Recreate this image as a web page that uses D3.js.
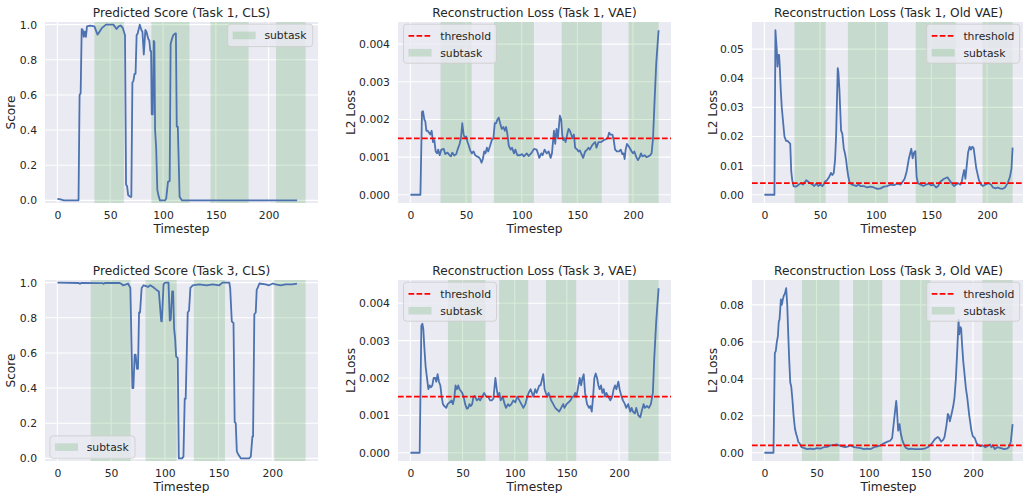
<!DOCTYPE html>
<html><head><meta charset="utf-8">
<script src="https://cdn.jsdelivr.net/npm/d3@7"></script>
<style>html,body{margin:0;padding:0;background:#fff;overflow:hidden}svg{display:block}</style>
</head><body>
<svg id="chart" width="1023" height="493"></svg>
<script>
// ---------------- DATA ----------------
const xTicks = [0, 50, 100, 150, 200];
const scoreTicks = [0, 0.2, 0.4, 0.6, 0.8, 1.0];
const vaeTicks = [0, 0.001, 0.002, 0.003, 0.004];
const old1Ticks = [0, 0.01, 0.02, 0.03, 0.04, 0.05];
const old3Ticks = [0, 0.02, 0.04, 0.06, 0.08];
const scoreLimits = [-0.015, 1.015];
const thresholdVae = 0.0015;
const thresholdOld = 0.004;

const cls1Spans = [[35,63],[89,125],[145,181],[207,235]];
const vae1Spans = [[27,55],[75,111],[136,172],[196,223]];
const cls3Spans = [[31,68],[82,111],[127,156],[202,231]];
const vae3Spans = [[36,72],[85,113],[130,159],[209,238]];

const titles = [
  "Predicted Score (Task 1, CLS)", "Reconstruction Loss (Task 1, VAE)", "Reconstruction Loss (Task 1, Old VAE)",
  "Predicted Score (Task 3, CLS)", "Reconstruction Loss (Task 3, VAE)", "Reconstruction Loss (Task 3, Old VAE)"
];

const cls1Score = [[0,0.008],[3,0.005],[6,0.0],[20,0.0],[21,0.6],[22,0.61],[23,0.975],[24,0.97],[25,0.93],[26,0.96],[27,0.93],[28,0.99],[31,0.995],[35,0.99],[38,0.943],[42,0.98],[46,1.0],[53,1.0],[56,0.975],[58,0.99],[60,0.995],[62,0.98],[64,0.94],[65,0.09],[66,0.08],[67,0.03],[69,0.02],[70,0.02],[71,0.67],[72,0.68],[73,0.72],[74,0.72],[75,0.94],[76,0.95],[78,1.0],[79.5,0.97],[80.5,0.96],[81.8,0.83],[83.3,0.97],[84.3,0.96],[86,0.92],[87,0.91],[88,0.85],[88.7,0.85],[89.3,0.49],[90.3,0.49],[91.2,0.908],[91.8,0.9],[92.5,0.4],[93.5,0.3],[94.6,0.06],[95.6,0.03],[97,0.0],[102,0.0],[103,0.01],[104.7,0.105],[106.3,0.11],[107.2,0.89],[108.5,0.92],[109.7,0.94],[111.6,0.95],[112.2,0.95],[113,0.42],[114,0.42],[115.7,0.02],[117.3,0.005],[118,0.0],[227,0.0]];

const vae1Loss = [[0,0],[9,0],[10.4,0.0022],[11.3,0.00222],[12.5,0.002],[13.4,0.00195],[14.3,0.0017],[15.5,0.0017],[16.7,0.00165],[17.9,0.0016],[19.1,0.0017],[20.3,0.0014],[21.5,0.00145],[22.7,0.00115],[23.9,0.0011],[25,0.0012],[26.3,0.00105],[27.8,0.0012],[29.9,0.00122],[31.3,0.00108],[33.4,0.00112],[35.2,0.00105],[36.4,0.00102],[37.6,0.00112],[39.4,0.00104],[41.2,0.00108],[42.4,0.0012],[44.2,0.00135],[45.4,0.0015],[46.6,0.0019],[47.8,0.0016],[49,0.0015],[50.1,0.00155],[51.3,0.0014],[52.5,0.0013],[53.7,0.00118],[55.2,0.0011],[56.7,0.00115],[58.2,0.00105],[59.7,0.00102],[61.2,0.001],[62.7,0.00095],[63.9,0.00085],[65.1,0.00095],[66.3,0.00115],[67.5,0.0011],[68.7,0.00125],[69.9,0.00115],[71.6,0.0013],[73.1,0.00145],[74.6,0.0015],[75.8,0.0019],[77,0.0019],[78.2,0.002],[79.4,0.00205],[80.6,0.0019],[82.1,0.00175],[83.6,0.0018],[84.8,0.0017],[86,0.0018],[87.2,0.0016],[88.4,0.0013],[90.1,0.0012],[91.3,0.00125],[93.1,0.0011],[94.3,0.0012],[96.1,0.00105],[98.5,0.00105],[100.3,0.00108],[102,0.00102],[104.5,0.0011],[106.3,0.00103],[109,0.00112],[111,0.00122],[113.4,0.0012],[114.6,0.0011],[115.8,0.00098],[117.6,0.0011],[118.8,0.00105],[120.6,0.0012],[122.4,0.0011],[124.2,0.00115],[126,0.00098],[127.2,0.0011],[129,0.0017],[130.1,0.00135],[131.3,0.00175],[132.5,0.0015],[133.1,0.0017],[134.3,0.0021],[135.5,0.002],[136.4,0.0016],[137.3,0.00145],[138.5,0.0015],[139.4,0.0014],[140.9,0.0016],[142.1,0.00175],[143.3,0.0017],[144.5,0.0016],[145.7,0.0015],[146.9,0.0016],[148,0.00125],[149.9,0.0012],[151,0.00115],[152.2,0.00118],[153.4,0.0011],[155.2,0.00098],[157,0.00115],[158.8,0.0012],[160,0.00125],[161.2,0.0012],[163,0.0013],[164.2,0.00135],[166,0.0014],[167.2,0.00125],[169,0.0014],[171.3,0.0014],[173.7,0.00145],[176.1,0.00148],[177.3,0.0015],[178.5,0.00165],[179.7,0.0016],[181.5,0.0016],[182.7,0.00145],[183.9,0.0012],[185.7,0.00115],[187.5,0.00115],[189,0.0012],[190.4,0.00108],[191.6,0.0011],[192.5,0.00095],[193.4,0.0012],[194.6,0.00135],[195.8,0.0013],[197,0.00125],[198.8,0.00115],[200,0.0011],[201.2,0.00115],[203,0.001],[204.5,0.00092],[206,0.001],[207.2,0.0011],[208.4,0.00102],[210.4,0.00105],[212,0.001],[213.7,0.00102],[215.5,0.00105],[216.7,0.0011],[218,0.0015],[219.4,0.0025],[220.9,0.0035],[223,0.00437]];

const old1Loss = [[0,0],[9,0],[9.9,0.0565],[10.5,0.053],[11.1,0.05],[11.7,0.044],[12.6,0.048],[13.2,0.048],[13.8,0.044],[14.7,0.036],[15.6,0.03],[16.8,0.025],[18,0.02],[19.5,0.0185],[20.8,0.0185],[22,0.018],[22.6,0.0178],[23.2,0.0175],[24.1,0.008],[25,0.005],[26.2,0.003],[27.7,0.0028],[29.2,0.003],[31,0.0035],[32.8,0.004],[34.6,0.0035],[35.8,0.004],[37.6,0.005],[39.4,0.0045],[41.2,0.004],[43,0.0035],[44.8,0.003],[46.6,0.0038],[48.4,0.003],[50.2,0.0035],[52,0.003],[53.2,0.0035],[54.4,0.0045],[56.2,0.005],[58,0.006],[59.8,0.0075],[61,0.0068],[62.3,0.0075],[63.5,0.012],[64.4,0.02],[65.9,0.0435],[66.5,0.042],[67.4,0.036],[68.9,0.022],[70,0.021],[71.3,0.016],[72.5,0.014],[73.4,0.012],[74.3,0.009],[75.5,0.006],[76.7,0.004],[78.5,0.0035],[80.3,0.0033],[82.7,0.003],[84.5,0.0035],[86.3,0.003],[89.3,0.003],[92.3,0.0025],[95.3,0.0028],[98.3,0.0025],[101.4,0.002],[104.4,0.0022],[107.4,0.0028],[110.4,0.003],[113.4,0.0035],[116.4,0.0033],[119.4,0.0038],[122.4,0.0035],[124.2,0.0045],[126,0.0055],[127.8,0.008],[129.6,0.012],[130.8,0.014],[132,0.0158],[133.2,0.0125],[134.4,0.0145],[135.6,0.015],[136.8,0.006],[138,0.004],[140.5,0.0035],[142.9,0.003],[145.3,0.0035],[147.7,0.0038],[150.1,0.0032],[151.9,0.0035],[154.3,0.0025],[156.1,0.003],[158,0.0045],[159.7,0.005],[161.5,0.0055],[164.5,0.006],[166.3,0.005],[168.1,0.004],[170.5,0.003],[172.3,0.0035],[174.1,0.004],[175.9,0.0035],[177.1,0.004],[178.3,0.0065],[179.5,0.0085],[180.6,0.0055],[181.8,0.01],[183,0.0145],[184.4,0.0165],[185.6,0.0155],[186.8,0.0165],[188,0.016],[189.2,0.0125],[190.4,0.009],[191.6,0.007],[192.8,0.005],[194.6,0.0035],[196.4,0.003],[198.8,0.0035],[201.2,0.004],[203.6,0.0035],[205.4,0.0025],[207.8,0.0022],[209.6,0.0025],[211.4,0.0022],[213.8,0.002],[216.2,0.0025],[218.6,0.004],[220.5,0.006],[222,0.009],[223,0.0162]];

const cls3Score = [[0,1.0],[20,0.998],[21,0.993],[22,0.998],[42,0.997],[43,0.993],[44,0.998],[58,0.998],[59.6,0.993],[61,0.985],[64,0.99],[65.7,0.995],[67.9,0.97],[69.8,0.4],[70.7,0.4],[71.9,0.59],[72.8,0.59],[74,0.51],[75,0.51],[76,0.83],[76.9,0.83],[78.4,0.97],[80.2,0.985],[82.7,0.98],[84.3,0.975],[86.4,0.985],[89,0.975],[92,0.96],[94.4,0.95],[96.6,0.78],[97.2,0.78],[98.8,0.99],[100.3,1.0],[103.4,1.0],[104.6,0.784],[105.5,0.79],[106.8,0.95],[107.7,0.95],[108.6,0.74],[109.6,0.68],[110.5,0.58],[112,0.57],[113,0.0],[116,0.0],[117.3,0.01],[118.5,0.34],[119.4,0.34],[121.3,0.83],[122.5,0.84],[123.8,0.97],[126,0.985],[132,0.99],[138.9,0.985],[144.4,0.99],[150.6,0.985],[153.7,1.0],[160,1.0],[160.8,0.97],[162.3,0.78],[163.9,0.77],[165,0.206],[166,0.2],[167,0.04],[168.5,0.02],[170.7,0.0],[178.4,0.0],[180,0.01],[181.5,0.125],[182.1,0.125],[183.3,0.82],[184.6,0.83],[185.5,0.96],[186.4,0.97],[188,0.995],[193.8,0.99],[196.9,0.985],[200.6,0.995],[203,0.99],[207.7,0.985],[212.3,0.99],[218.5,0.99],[223,0.995]];

const vae3Loss = [[0,0],[8.9,0],[10.5,0.0034],[11.5,0.00345],[12.4,0.0033],[13.4,0.0028],[14.6,0.0023],[15.9,0.002],[17.2,0.0017],[18.5,0.0018],[19.7,0.00175],[21,0.0018],[22.3,0.002],[23.9,0.002],[24.8,0.0019],[26.1,0.0021],[27.4,0.0019],[28.7,0.0018],[29.9,0.0015],[31.2,0.0013],[32.5,0.00125],[34.4,0.0012],[35.7,0.0013],[37.6,0.00135],[39.5,0.0014],[40.8,0.0013],[42,0.00145],[43.3,0.0018],[44.6,0.0017],[45.9,0.0018],[47.1,0.0017],[48.4,0.00165],[49.7,0.0016],[51,0.0015],[52.5,0.0013],[54.1,0.00118],[55.4,0.0012],[56.7,0.0013],[57.9,0.00125],[59.2,0.0013],[60.5,0.0015],[61.8,0.00152],[63.7,0.0014],[65.6,0.00145],[66.9,0.0014],[68.8,0.0015],[70.7,0.0016],[72.6,0.0015],[74.5,0.0015],[76.4,0.0014],[78,0.0014],[79.6,0.00145],[81.5,0.002],[82.8,0.0017],[84,0.0015],[85.3,0.0016],[86.6,0.0014],[88.5,0.0015],[90.4,0.0013],[91.7,0.0012],[93.6,0.0013],[94.9,0.00125],[96.8,0.0013],[98.7,0.0014],[100.6,0.00135],[102.5,0.0015],[104.5,0.0014],[106.4,0.0013],[108.3,0.0012],[110.2,0.0013],[112.1,0.0015],[113.4,0.0016],[115.3,0.0017],[116.6,0.0016],[117.8,0.0015],[119.7,0.0017],[121,0.0016],[122.3,0.0017],[123.6,0.0018],[124.8,0.0018],[127.4,0.0021],[128.7,0.0017],[129.9,0.0016],[131.2,0.0015],[132.5,0.0016],[133.8,0.0015],[135,0.0014],[137,0.0013],[138.9,0.0012],[140.8,0.00115],[142.7,0.0011],[144.6,0.0012],[146.5,0.0013],[147.8,0.0012],[149.7,0.0013],[151.6,0.00135],[153.5,0.0014],[155.4,0.0015],[156.7,0.0015],[158,0.0016],[159.2,0.0015],[160.5,0.0017],[162.4,0.002],[163.7,0.0018],[165,0.002],[166.2,0.0021],[167.5,0.0016],[169.4,0.0013],[171.3,0.0012],[172.6,0.00125],[173.9,0.0011],[175.2,0.0015],[176.4,0.002],[177.7,0.00212],[179,0.002],[180.3,0.0018],[181.5,0.0017],[182.8,0.0018],[184.1,0.0016],[185.4,0.0017],[186.6,0.0015],[187.9,0.0016],[189.8,0.0015],[191.7,0.0014],[193.6,0.0015],[194.9,0.0017],[196.2,0.0018],[197.5,0.0017],[199.4,0.0019],[200.6,0.0017],[202.5,0.0015],[203.8,0.0014],[205.7,0.0013],[207,0.0012],[208.9,0.0013],[210.8,0.0011],[212.1,0.0012],[213.4,0.0011],[215.3,0.00105],[216.6,0.0012],[218.5,0.001],[220.4,0.00095],[221.7,0.0011],[223.6,0.0013],[224.8,0.0012],[226.8,0.00125],[228.7,0.0012],[230.6,0.0013],[232.5,0.0016],[233.8,0.0025],[235.7,0.0035],[238,0.0044]];

const old3Loss = [[0,0],[8.7,0],[10,0.054],[10.9,0.055],[11.9,0.06],[12.9,0.063],[13.8,0.071],[14.5,0.072],[15.8,0.083],[16.7,0.08],[17.7,0.083],[18.6,0.085],[19.6,0.086],[20.9,0.089],[21.9,0.08],[22.8,0.065],[23.8,0.05],[24.8,0.038],[25.7,0.036],[26.7,0.03],[28,0.02],[29.3,0.013],[30.5,0.01],[31.2,0.009],[32.5,0.006],[33.8,0.005],[35.7,0.003],[38.3,0.0025],[40.8,0.002],[44,0.0022],[47.3,0.002],[50.5,0.0025],[53.7,0.0022],[56.9,0.003],[60.1,0.0032],[63.3,0.004],[66.6,0.0042],[69.1,0.0045],[71.7,0.004],[74.3,0.0035],[77.5,0.003],[80.7,0.0035],[82.6,0.004],[85.9,0.003],[89.1,0.0028],[92.3,0.0025],[95.5,0.002],[98.7,0.0022],[101.9,0.002],[105.1,0.003],[108.4,0.0035],[111.6,0.004],[114.1,0.005],[116.1,0.0055],[118,0.006],[120.6,0.0065],[122.5,0.008],[124.4,0.018],[126.4,0.028],[127,0.024],[128.3,0.012],[129.6,0.0155],[130.9,0.01],[132.2,0.007],[134.1,0.004],[136,0.0025],[138.6,0.002],[140.5,0.0022],[143.7,0.002],[150.2,0.002],[153.4,0.0022],[156.6,0.003],[159.8,0.0045],[161.7,0.006],[163.7,0.0075],[166.2,0.0085],[167.5,0.008],[169.5,0.006],[171.4,0.007],[172.7,0.0085],[174.6,0.015],[175.9,0.021],[176.9,0.02],[177.8,0.017],[179.1,0.02],[181,0.025],[182.3,0.03],[183.6,0.04],[184.9,0.055],[186.2,0.072],[186.8,0.064],[188.1,0.068],[188.7,0.067],[189.4,0.06],[190.6,0.05],[192,0.042],[193.2,0.035],[194.5,0.03],[196.5,0.02],[198.5,0.012],[199.8,0.009],[201.7,0.008],[203.6,0.005],[205.5,0.004],[207.4,0.0035],[209.3,0.004],[211.9,0.003],[216.4,0.0045],[217.7,0.003],[219,0.004],[220.9,0.002],[223.5,0.003],[226.7,0.0025],[229.9,0.002],[232.4,0.0022],[234.4,0.003],[236.3,0.006],[238,0.0155]];

// ---------------- LAYOUT ----------------
const colLeft = [45, 398, 752];
const rowTop = [22, 280];
const AW = 273, AH = 181;
const BG = "#EAEAF2", TXT = "#262626", LINE = "#4C72B0";
const FONT = "DejaVu Sans, sans-serif";
const fTick = 10.8, fTitle = 12.2, fLabel = 12.2, fLeg = 10.8;

const panels = [
  {series: cls1Score, spans: cls1Spans, yTicks: scoreTicks, fmt: ".1f", ylabel: "Score", thr: null, legend: "ur1", ylim: scoreLimits},
  {series: vae1Loss, spans: vae1Spans, yTicks: vaeTicks, fmt: ".3f", ylabel: "L2 Loss", thr: thresholdVae, legend: "ul"},
  {series: old1Loss, spans: vae1Spans, yTicks: old1Ticks, fmt: ".2f", ylabel: "L2 Loss", thr: thresholdOld, legend: "ur"},
  {series: cls3Score, spans: cls3Spans, yTicks: scoreTicks, fmt: ".1f", ylabel: "Score", thr: null, legend: "ll1", ylim: scoreLimits},
  {series: vae3Loss, spans: vae3Spans, yTicks: vaeTicks, fmt: ".3f", ylabel: "L2 Loss", thr: thresholdVae, legend: "ul"},
  {series: old3Loss, spans: vae3Spans, yTicks: old3Ticks, fmt: ".2f", ylabel: "L2 Loss", thr: thresholdOld, legend: "ur"},
];

const svg = d3.select("#chart");
const defs = svg.append("defs");

panels.forEach((p, i) => {
  const left = colLeft[i % 3], top = rowTop[Math.floor(i / 3)];
  const g = svg.append("g").attr("transform", `translate(${left},${top})`);
  const clipId = "clip" + i;
  defs.append("clipPath").attr("id", clipId).append("rect").attr("width", AW).attr("height", AH);

  // x domain: data + spans with 5% margins
  const xMax = Math.max(d3.max(p.series, d => d[0]), d3.max(p.spans, d => d[1]));
  const xMin = 0;
  const xm = (xMax - xMin) * 0.05;
  const x = d3.scaleLinear().domain([xMin - xm, xMax + xm]).range([0, AW]);
  let ydom;
  if (p.ylim) ydom = p.ylim;
  else {
    const vals = p.series.map(d => d[1]).concat(p.thr != null ? [p.thr] : []);
    const lo = d3.min(vals), hi = d3.max(vals), m = (hi - lo) * 0.05;
    ydom = [lo - m, hi + m];
  }
  const y = d3.scaleLinear().domain(ydom).range([AH, 0]);

  g.append("rect").attr("width", AW).attr("height", AH).attr("fill", BG);
  const plot = g.append("g").attr("clip-path", `url(#${clipId})`);

  // grid
  plot.selectAll(".gx").data(xTicks).join("line")
    .attr("x1", d => x(d)).attr("x2", d => x(d)).attr("y1", 0).attr("y2", AH)
    .attr("stroke", "#fff").attr("stroke-width", 1.1);
  plot.selectAll(".gy").data(p.yTicks).join("line")
    .attr("x1", 0).attr("x2", AW).attr("y1", d => y(d)).attr("y2", d => y(d))
    .attr("stroke", "#fff").attr("stroke-width", 1.1);

  // spans
  plot.selectAll(".span").data(p.spans).join("rect")
    .attr("x", d => x(d[0])).attr("width", d => x(d[1]) - x(d[0]))
    .attr("y", 0).attr("height", AH)
    .attr("fill", "#008000").attr("fill-opacity", 0.15);

  // series line
  const line = d3.line().x(d => x(d[0])).y(d => y(d[1]));
  plot.append("path").datum(p.series).attr("d", line)
    .attr("fill", "none").attr("stroke", LINE).attr("stroke-width", 1.8)
    .attr("stroke-linejoin", "round");

  if (p.thr != null) {
    plot.append("line").attr("x1", 0).attr("x2", AW).attr("y1", y(p.thr)).attr("y2", y(p.thr))
      .attr("stroke", "red").attr("stroke-width", 1.7).attr("stroke-dasharray", "5.7,2.3");
  }

  // ticks
  const xAxis = d3.axisBottom(x).tickValues(xTicks).tickSize(0).tickPadding(0).tickFormat(d3.format("d"));
  const gx = g.append("g").attr("transform", `translate(0,${AH})`).call(xAxis);
  gx.select(".domain").remove();
  gx.selectAll("text").attr("y", 16.3).attr("dy", null)
    .attr("font-family", FONT).attr("font-size", fTick).attr("fill", TXT);

  const yAxis = d3.axisLeft(y).tickValues(p.yTicks).tickSize(0).tickPadding(8).tickFormat(d3.format(p.fmt));
  const gy = g.append("g").call(yAxis);
  gy.select(".domain").remove();
  gy.selectAll("text").attr("font-family", FONT).attr("font-size", fTick).attr("fill", TXT);

  // title and labels
  g.append("text").attr("x", AW / 2).attr("y", -5.5).attr("text-anchor", "middle")
    .attr("font-family", FONT).attr("font-size", fTitle).attr("fill", TXT).text(titles[i]);
  g.append("text").attr("x", AW / 2).attr("y", AH + 30).attr("text-anchor", "middle")
    .attr("font-family", FONT).attr("font-size", fLabel).attr("fill", TXT).text("Timestep");
  const ylx = [-30, -43, -35.3][i % 3];
  g.append("text").attr("transform", `translate(${ylx},${AH / 2}) rotate(-90)`).attr("text-anchor", "middle")
    .attr("font-family", FONT).attr("font-size", fLabel).attr("fill", TXT).text(p.ylabel);

  // legend
  const two = p.thr != null;
  const lw = two ? 93 : 85, lh = two ? 39 : 22.4;
  let lx, ly;
  if (p.legend === "ul") { lx = 5.5; ly = 2.2; }
  else if (p.legend === "ur" || p.legend === "ur1") { lx = AW - 5.3 - lw; ly = 2.2; }
  else { lx = 5; ly = AH - 2.7 - lh; }
  const lg = g.append("g").attr("transform", `translate(${lx},${ly})`);
  lg.append("rect").attr("width", lw).attr("height", lh).attr("rx", 3)
    .attr("fill", BG).attr("fill-opacity", 0.8).attr("stroke", "#cccccc").attr("stroke-opacity", 0.8).attr("stroke-width", 1);
  const entries = two ? ["threshold", "subtask"] : ["subtask"];
  entries.forEach((e, k) => {
    const cy = two ? (k === 0 ? 11.7 : 28.5) : 11.2;
    if (e === "threshold") {
      lg.append("line").attr("x1", 5).attr("x2", 27).attr("y1", cy).attr("y2", cy)
        .attr("stroke", "red").attr("stroke-width", 1.7).attr("stroke-dasharray", "5.7,2.3");
    } else {
      lg.append("rect").attr("x", 5).attr("y", cy - 3.8).attr("width", 23).attr("height", 7.6)
        .attr("fill", "#008000").attr("fill-opacity", 0.15);
    }
    lg.append("text").attr("x", 36.7).attr("y", cy).attr("dy", "0.36em")
      .attr("font-family", FONT).attr("font-size", fLeg).attr("fill", TXT).text(e);
  });
});
</script>
</body></html>
